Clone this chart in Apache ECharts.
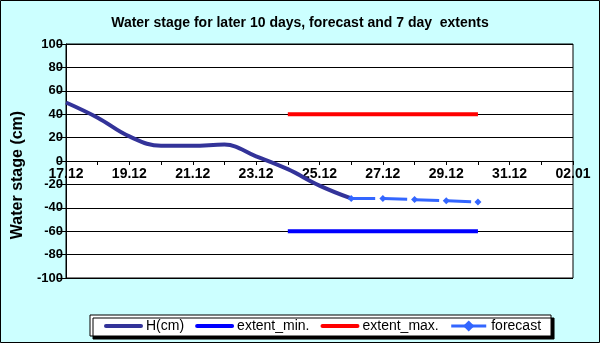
<!DOCTYPE html>
<html>
<head>
<meta charset="utf-8">
<script src="https://cdn.jsdelivr.net/npm/echarts@6/dist/echarts.min.js"></script>
<style>
  html, body { margin: 0; padding: 0; }
  #container { width: 600px; height: 343px; }
</style>
</head>
<body>
<div id="container"></div>
<script>
var days = ['17.12', '18.12', '19.12', '20.12', '21.12', '22.12', '23.12', '24.12', '25.12',
  '26.12', '27.12', '28.12', '29.12', '30.12', '31.12', '01.01', '02.01'];
var hValues = [50, 37, 21, 13, 13, 14, 4, -7, -21, -32, null, null, null, null, null, null, null];
var extentMin = [null, null, null, null, null, null, null, -60, -60, -60, -60, -60, -60, -60, null, null, null];
var extentMax = [null, null, null, null, null, null, null, 40, 40, 40, 40, 40, 40, 40, null, null, null];
var forecast = [null, null, null, null, null, null, null, null, null, -32, -32, -33, -34, -35, null, null, null];

var font = "'Liberation Sans', Arial, sans-serif";
var dom = document.getElementById('container');
var myChart = echarts.init(dom, null, { renderer: 'canvas' });
var option;

option = {
  backgroundColor: '#ccffff',
  animation: false,
  title: {
    text: 'Water stage for later 10 days, forecast and 7 day  extents',
    left: 'center',
    top: 16,
    padding: 0,
    textStyle: { fontFamily: font, fontSize: 14, fontWeight: 'bold', color: '#000' }
  },
  legend: {
    left: 90,
    top: 315,
    padding: [4, 10, 3, 14],
    itemGap: 11,
    itemWidth: 35,
    itemHeight: 14,
    backgroundColor: '#fff',
    borderColor: '#000',
    borderWidth: 1,
    borderRadius: 0,
    shadowColor: '#000',
    shadowOffsetX: 3,
    shadowOffsetY: 3,
    shadowBlur: 0,
    textStyle: { fontFamily: font, fontSize: 14, color: '#000' },
    data: [
      { name: 'H(cm)', itemStyle: { opacity: 0 }, lineStyle: { width: 4, cap: 'round' } },
      { name: 'extent_min.', itemStyle: { opacity: 0 }, lineStyle: { width: 4, cap: 'round' } },
      { name: 'extent_max.', itemStyle: { opacity: 0 }, lineStyle: { width: 4, cap: 'round' } },
      { name: 'forecast', lineStyle: { type: 'solid', width: 3 } }
    ]
  },
  grid: {
    left: 66,
    right: 27,
    top: 44,
    bottom: 65,
    show: true,
    backgroundColor: '#fff',
    borderColor: '#000',
    borderWidth: 1
  },
  xAxis: {
    type: 'category',
    data: days,
    boundaryGap: false,
    position: 'bottom',
    offset: -117,
    axisLine: { onZero: false, lineStyle: { color: '#000', width: 1 } },
    axisTick: { interval: 0, length: 4, lineStyle: { color: '#000' } },
    axisLabel: {
      interval: 1,
      margin: 6,
      color: '#000',
      fontFamily: font,
      fontSize: 14,
      fontWeight: 'bold'
    },
    splitLine: { show: false }
  },
  yAxis: {
    type: 'value',
    min: -100,
    max: 100,
    interval: 20,
    name: 'Water stage (cm)',
    nameLocation: 'middle',
    nameGap: 40,
    nameTextStyle: {
      fontFamily: font,
      fontSize: 16,
      fontWeight: 'bold',
      color: '#000',
      padding: [0, 28, 0, 0]
    },
    axisLine: { show: true, lineStyle: { color: '#000' } },
    axisTick: { show: true, length: 9, lineStyle: { color: '#000' } },
    axisLabel: { margin: 3, color: '#000', fontFamily: font, fontSize: 13, fontWeight: 'bold' },
    splitLine: { show: true, lineStyle: { color: '#000', width: 1 } }
  },
  series: [
    {
      name: 'H(cm)',
      type: 'line',
      data: hValues,
      smooth: 0.4,
      symbol: 'none',
      lineStyle: { color: '#333399', width: 4 },
      itemStyle: { color: '#333399' }
    },
    {
      name: 'extent_min.',
      type: 'line',
      data: extentMin,
      symbol: 'none',
      lineStyle: { color: '#0000ff', width: 4 },
      itemStyle: { color: '#0000ff' }
    },
    {
      name: 'extent_max.',
      type: 'line',
      data: extentMax,
      symbol: 'none',
      lineStyle: { color: '#ff0000', width: 4 },
      itemStyle: { color: '#ff0000' }
    },
    {
      name: 'forecast',
      type: 'line',
      data: forecast,
      symbol: 'diamond',
      symbolSize: 7,
      lineStyle: { color: '#3366ff', width: 3, type: [24, 8] },
      itemStyle: { color: '#3366ff' }
    }
  ],
  graphic: [
    {
      type: 'rect',
      shape: { x: 0.5, y: 0.5, width: 599, height: 342 },
      style: { fill: null, stroke: '#000', lineWidth: 1 },
      silent: true
    }
  ]
};

if (option && typeof option === 'object') {
  myChart.setOption(option);
}

window.addEventListener('resize', myChart.resize);
</script>
</body>
</html>
